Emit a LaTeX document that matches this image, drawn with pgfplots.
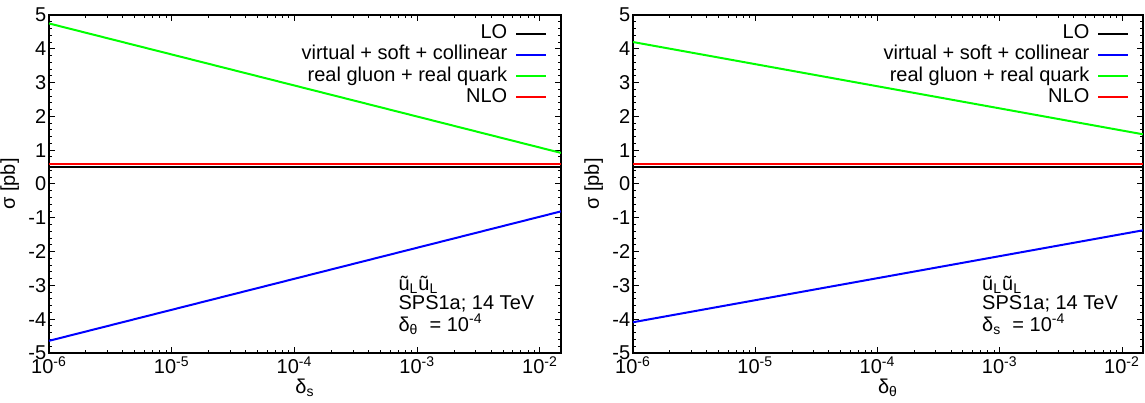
\documentclass[border=0pt]{standalone}
\usepackage{fontspec}
\setmainfont{Liberation Sans}
\usepackage{pgfplots}
\pgfplotsset{compat=1.18}
\newcommand\fs{\fontsize{10}{11}\selectfont}
\definecolor{gpgreen}{RGB}{0,255,0}
\definecolor{gpblue}{RGB}{0,0,255}
\definecolor{gpred}{RGB}{255,0,0}
\pgfplotsset{
  legend image code/.code={\draw[#1] (0pt,0pt) -- (15pt,0pt);},
  gp/.style={
    scale only axis,
    height=169pt,
    xmin=1e-6, xmax=0.01483,
    ymin=-5, ymax=5,
    xtick={1e-6,1e-5,1e-4,1e-3,1e-2},
    xticklabels={10\textsuperscript{-6},10\textsuperscript{-5},10\textsuperscript{-4},10\textsuperscript{-3},10\textsuperscript{-2}},
    ytick={-5,-4,-3,-2,-1,0,1,2,3,4,5},
    yticklabels={-5,-4,-3,-2,-1,0,1,2,3,4,5},
    minor y tick num=4,
    tick align=inside,
    major tick length=3pt,
    minor tick length=1.5pt,
    tick style={black, line width=0.5pt},
    axis line style={line width=0.7pt},
    yticklabel style={inner sep=1.2pt},
    xticklabel style={inner sep=1.5pt},
    xlabel style={yshift=2.5pt},
    ylabel={σ [pb]},
    legend plot pos=right,
    legend cell align=right,
    legend style={draw=none, fill=none, at={(0.974,0.977)}, anchor=north east,
      inner sep=0pt, row sep=0pt, column sep=3.5pt, font=\fs,
      nodes={inner sep=0.5pt, text height=7.3pt, text depth=2.3pt}},
    every axis plot/.append style={line width=1pt},
  }
}
\begin{document}
\begin{tikzpicture}[font=\fs]
\path[use as bounding box] (0,0) rectangle (572.5pt,201pt);
\begin{semilogxaxis}[gp, width=256pt, at={(24.5pt,24.5pt)}, anchor=south west,
  xlabel={δ\textsubscript{s}}]
\addplot[black] coordinates {(1e-6,0.50) (0.01483,0.50)};
\addlegendentry{LO}
\addplot[gpblue] coordinates {(1e-6,-4.64) (0.01483,-0.81)};
\addlegendentry{virtual + soft + collinear}
\addplot[gpgreen] coordinates {(1e-6,4.75) (0.01483,0.92)};
\addlegendentry{real gluon + real quark}
\addplot[gpred] coordinates {(1e-6,0.60) (0.01483,0.60)};
\addlegendentry{NLO}
\node[anchor=base west, inner sep=0pt] at (rel axis cs:0.682,0.186) {ũ\textsubscript{L}ũ\textsubscript{L}};
\node[anchor=base west, inner sep=0pt] at (rel axis cs:0.682,0.130) {SPS1a; 14 TeV};
\node[anchor=base west, inner sep=0pt] at (rel axis cs:0.682,0.065) {δ\textsubscript{θ}\ \ = 10\textsuperscript{-4}};
\end{semilogxaxis}
\begin{semilogxaxis}[gp, width=255pt, at={(316.5pt,24.5pt)}, anchor=south west,
  xlabel={δ\textsubscript{θ}}]
\addplot[black] coordinates {(1e-6,0.50) (0.01483,0.50)};
\addlegendentry{LO}
\addplot[gpblue] coordinates {(1e-6,-4.09) (0.01483,-1.37)};
\addlegendentry{virtual + soft + collinear}
\addplot[gpgreen] coordinates {(1e-6,4.20) (0.01483,1.47)};
\addlegendentry{real gluon + real quark}
\addplot[gpred] coordinates {(1e-6,0.60) (0.01483,0.60)};
\addlegendentry{NLO}
\node[anchor=base west, inner sep=0pt] at (rel axis cs:0.684,0.186) {ũ\textsubscript{L}ũ\textsubscript{L}};
\node[anchor=base west, inner sep=0pt] at (rel axis cs:0.684,0.130) {SPS1a; 14 TeV};
\node[anchor=base west, inner sep=0pt] at (rel axis cs:0.684,0.065) {δ\textsubscript{s}\ \ = 10\textsuperscript{-4}};
\end{semilogxaxis}
\end{tikzpicture}
\end{document}
